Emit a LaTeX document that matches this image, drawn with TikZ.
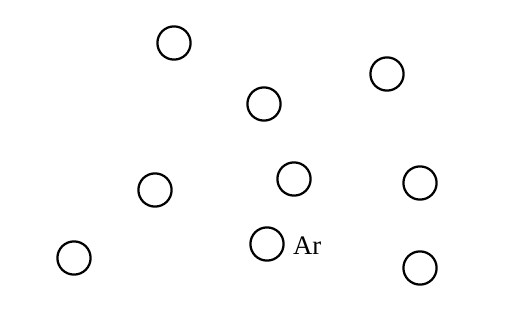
\documentclass[tikz,border=0pt]{standalone}
\usepackage{fontspec}
\setmainfont{Liberation Serif}
\usepackage{tikz}
\usetikzlibrary{positioning}

\tikzset{
    atom/.style={circle, draw=black, line width=1.6pt, minimum size=0.83cm, inner sep=0pt},
    atomname/.style={font=\fontsize{19}{22}\selectfont, inner sep=0pt}
}

\begin{document}
\begin{tikzpicture}[x=0.025cm, y=-0.025cm]
    \useasboundingbox (0, 0) rectangle (523, 327);

    % Gas atoms
    \node[atom] (a1) at (174, 43) {};
    \node[atom] (a2) at (387, 74) {};
    \node[atom] (a3) at (264, 104) {};
    \node[atom] (a4) at (155, 190) {};
    \node[atom] (a5) at (294, 179) {};
    \node[atom] (a6) at (420, 183) {};
    \node[atom] (a7) at (74, 258) {};
    \node[atom] (a8) at (267, 244) {};
    \node[atom] (a9) at (420, 268) {};

    % Label
    \node[atomname, right=0.2cm of a8, yshift=-0.04cm] (ar) {Ar};
\end{tikzpicture}
\end{document}
